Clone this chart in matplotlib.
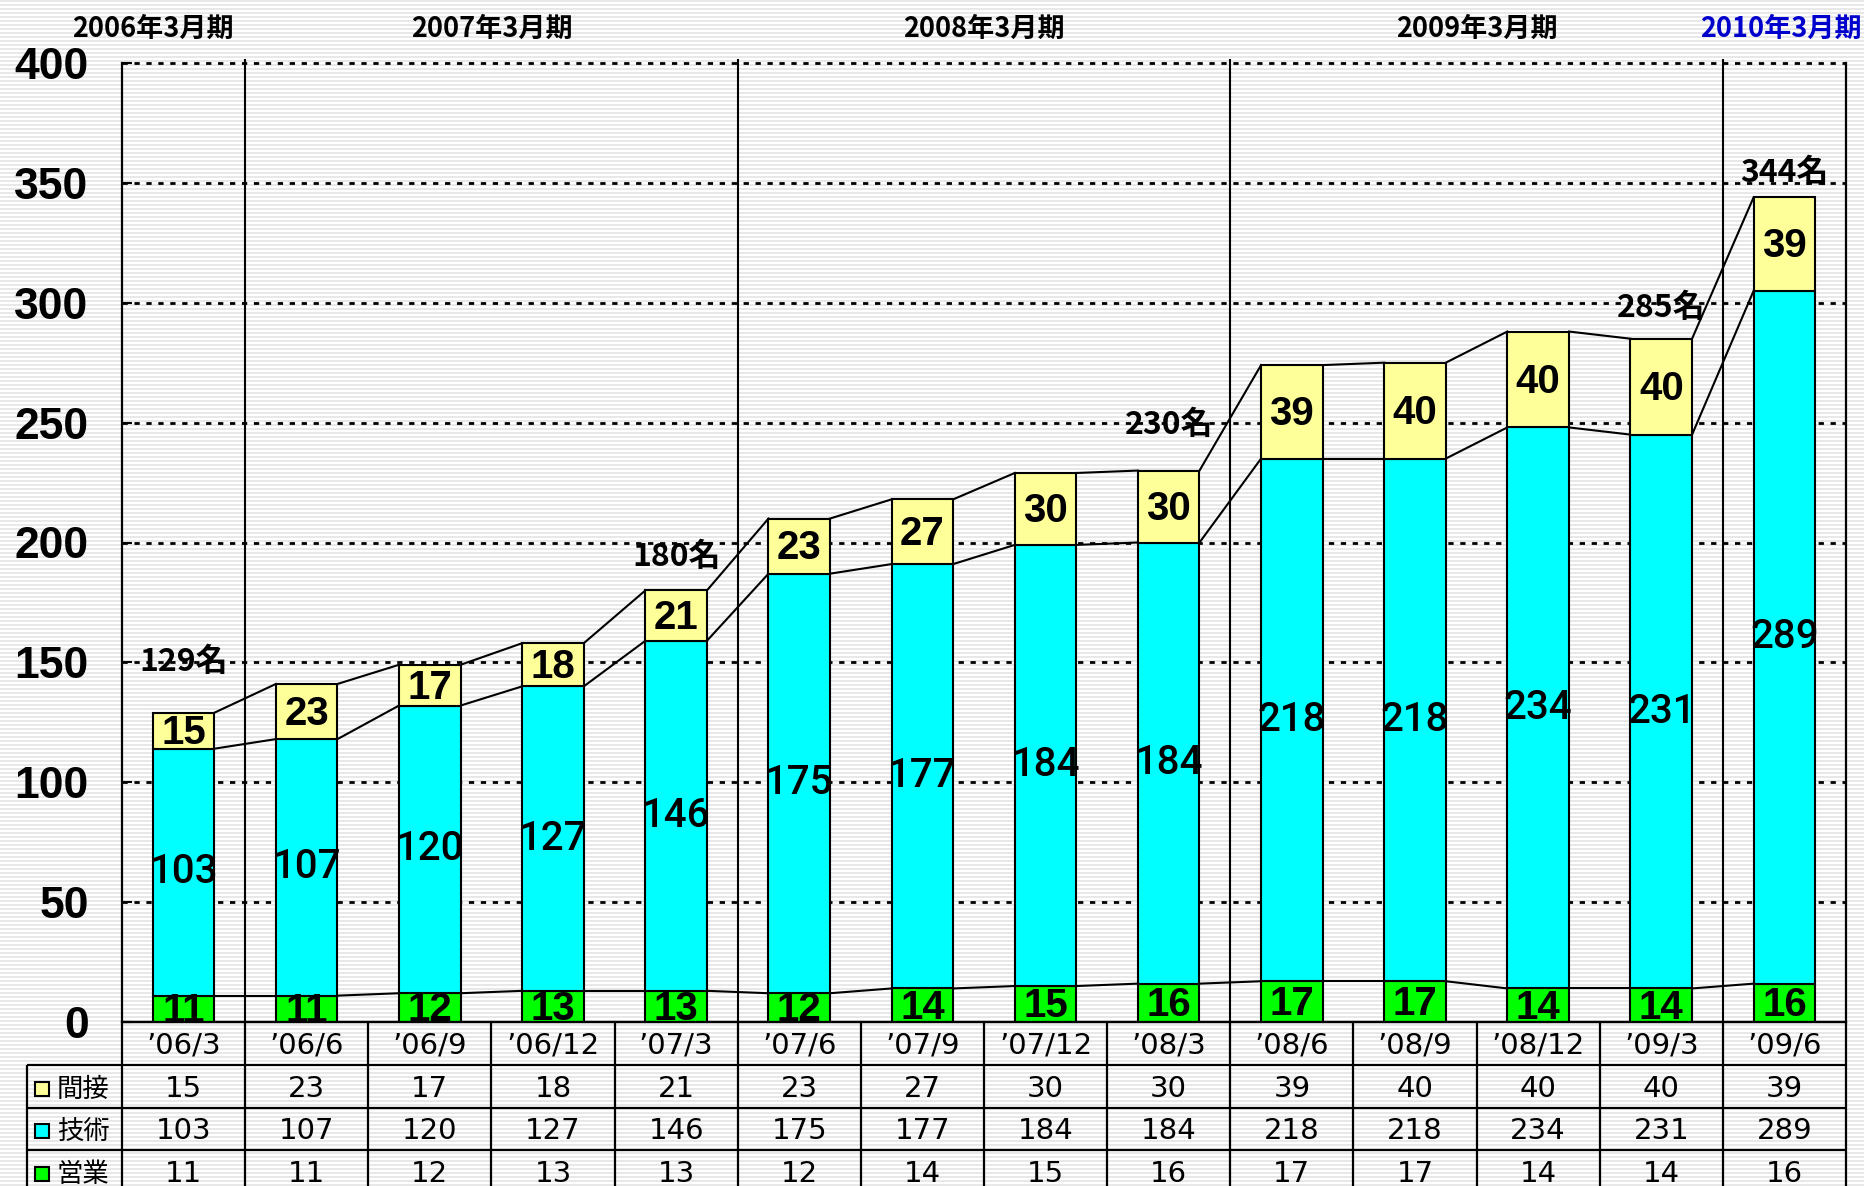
import numpy as np
import matplotlib
matplotlib.use("Agg")
import matplotlib.pyplot as plt

# headcount by quarter
periods = ["’06/3", "’06/6", "’06/9", "’06/12", "’07/3", "’07/6", "’07/9", "’07/12",
           "’08/3", "’08/6", "’08/9", "’08/12", "’09/3", "’09/6"]
indirect = [15, 23, 17, 18, 21, 23, 27, 30, 30, 39, 40, 40, 40, 39]   # 間接
tech = [103, 107, 120, 127, 146, 175, 177, 184, 184, 218, 218, 234, 231, 289]  # 技術
sales = [11, 11, 12, 13, 13, 12, 14, 15, 16, 17, 17, 14, 14, 16]  # 営業
row_names = ["間接", "技術", "営業"]

fiscal_years = ["2006年3月期", "2007年3月期", "2008年3月期", "2009年3月期", "2010年3月期"]
fiscal_groups = [[0], [1, 2, 3, 4], [5, 6, 7, 8], [9, 10, 11, 12], [13]]
total_label_idx = [0, 4, 8, 12, 13]

YELLOW = "#FFFF99"
CYAN = "#00FFFF"
GREEN = "#00FF00"
CJK = ["Noto Sans CJK JP", "DejaVu Sans"]
NUM = "Liberation Sans"

W, H = 1865, 1186
fig = plt.figure(figsize=(W / 100, H / 100), dpi=100)

# striped background over the whole picture
bg = np.ones((H, W, 3))
stripe = (np.arange(H) // 2) % 2 == 0
bg[stripe] = 0.91
fig.figimage(bg, 0, 0, zorder=-1)

# plot area in pixels
L, R, T, B = 122, 1846, 63, 1022
ax = fig.add_axes([L / W, (H - B) / H, (R - L) / W, (B - T) / H])
ax.set_facecolor("none")
n = len(periods)
x = np.arange(n)
cw = (R - L) / n


def px2x(px):
    return -0.5 + (px - L) / cw


ax.set_xlim(-0.5, n - 0.5)
ax.set_ylim(0, 400)

sales = np.array(sales)
tech = np.array(tech)
indirect = np.array(indirect)
lvl1 = sales
lvl2 = sales + tech
total = sales + tech + indirect

bw = 0.5
ax.bar(x, sales, bw, color=GREEN, edgecolor="black", linewidth=1.5, zorder=3)
ax.bar(x, tech, bw, bottom=lvl1, color=CYAN, edgecolor="black", linewidth=1.5, zorder=3)
ax.bar(x, indirect, bw, bottom=lvl2, color=YELLOW, edgecolor="black", linewidth=1.5, zorder=3)

# series lines between bars
for lvl in (lvl1, lvl2, total):
    for i in range(n - 1):
        ax.plot([i + bw / 2, i + 1 - bw / 2], [lvl[i], lvl[i + 1]], color="black", lw=1.5, zorder=2)

# gridlines
for gy in range(50, 401, 50):
    ax.axhline(gy, color="black", lw=2.0, dashes=(1.9, 2.4), zorder=1, clip_on=False)

# fiscal year separators
for g in fiscal_groups[1:]:
    ax.vlines(g[0] - 0.5, 0, 401.5, color="black", lw=1.5, zorder=2, clip_on=False)

# value labels
for i in range(n):
    ax.text(i, lvl1[i] / 2 - 1, str(sales[i]), ha="center", va="center", fontsize=29,
            family=NUM, weight="bold", zorder=4, clip_on=True)
    ax.text(i, lvl1[i] + tech[i] / 2, str(tech[i]), ha="center", va="center", fontsize=29,
            family="Roboto", weight="medium", zorder=4)
    ax.text(i, lvl2[i] + indirect[i] / 2 - 1, str(indirect[i]), ha="center", va="center", fontsize=29,
            family=NUM, weight="bold", zorder=4)

label_offsets = [21, 14, 19, 13, 10]
for i, off in zip(total_label_idx, label_offsets):
    ax.text(i, total[i] + off, f"{total[i]}名", ha="center", va="center", fontsize=23,
            family=CJK, weight="bold", zorder=5)

# fiscal year headers
for k, (name, g) in enumerate(zip(fiscal_years, fiscal_groups)):
    cx = np.mean(g)
    if k == 0:
        cx -= 0.25
    if k == len(fiscal_years) - 1:
        cx -= 0.03
    ax.text(cx, 1 + (T - 29) / (B - T), name, transform=ax.get_xaxis_transform(),
            ha="center", va="center", fontsize=19.5, family=CJK, weight="bold",
            color="#0000CC" if k == len(fiscal_years) - 1 else "black")

ax.set_xticks([])
ax.set_yticks(range(0, 401, 50))
ax.set_yticklabels([str(v) for v in range(0, 401, 50)], fontsize=32, family=NUM, weight="bold")
ax.tick_params(axis="y", direction="in", length=7, width=1.5, pad=24)
ax.spines["top"].set_visible(False)
for s in ("left", "right", "bottom"):
    ax.spines[s].set_linewidth(1.6)

# data table under the chart, y in pixel rows
tab = fig.add_axes([L / W, 0, (R - L) / W, (H - B) / H])
tab.set_facecolor("none")
tab.set_xlim(-0.5, n - 0.5)
tab.set_ylim(H, B)
tab.axis("off")

row_lines = [B, 1065, 1108, 1150, 1193]
row_centers = [1046, 1089, 1131, 1174]
left_px = 27

tab.hlines(row_lines[0], -0.5, n - 0.5, color="black", lw=1.6, clip_on=False)
for ry in row_lines[1:]:
    tab.hlines(ry, px2x(left_px), n - 0.5, color="black", lw=1.6, clip_on=False)
for i in range(n + 1):
    tab.vlines(i - 0.5, B, H + 10, color="black", lw=1.6, clip_on=False)
tab.vlines(px2x(left_px), row_lines[1], H + 10, color="black", lw=1.6, clip_on=False)

for i in range(n):
    tab.text(i, row_centers[0], periods[i], ha="center", va="center", fontsize=21, family="DejaVu Sans")
for r, (vals, name, col) in enumerate(zip([indirect, tech, sales], row_names, [YELLOW, CYAN, GREEN])):
    cy = row_centers[r + 1]
    tab.plot(px2x(41.5), cy, "s", ms=10, mfc=col, mec="black", mew=1.5, clip_on=False)
    tab.text(px2x(57), cy, name, ha="left", va="center", fontsize=19, family=CJK, clip_on=False)
    for i in range(n):
        tab.text(i, cy, str(vals[i]), ha="center", va="center", fontsize=21, family="DejaVu Sans")

fig.savefig("out.png", dpi=100)
